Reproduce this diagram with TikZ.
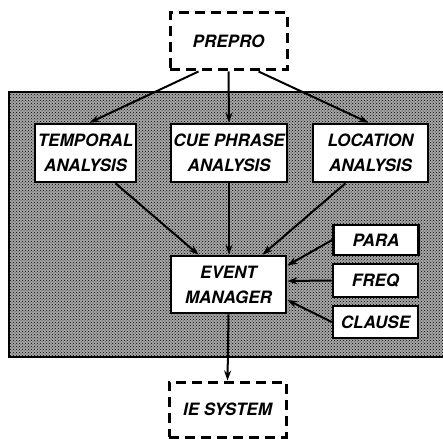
\documentclass[tikz,border=0pt]{standalone}
\usepackage{fontspec}
\setmainfont{TeX Gyre Heros}
\usetikzlibrary{arrows,arrows.meta,shapes}
\usetikzlibrary{positioning}
\usetikzlibrary{patterns}
\definecolor{fg}{rgb}{0,0,0}
\tikzstyle{box}=[draw, line width=2.6pt, fill=white, inner sep=0pt,
anchor=center, align=center, text=fg,
font=\fontsize{17}{25}\selectfont\bfseries\itshape]
\tikzstyle{ext}=[box, fill=none, line width=3pt, dash pattern=on 10pt off 6pt]
\tikzstyle{small}=[box, minimum width=85pt]
\tikzstyle{myarrow}=[->, >={Stealth[length=10pt, width=7pt]}, line width=2pt]

\begin{document}
\begin{tikzpicture}[x=1pt, y=-1pt]
    \useasboundingbox (0,0) rectangle (443,438);

    % shaded module area
    \fill[black!35] (9,92) rectangle (445,357);
    \fill[pattern=crosshatch dots, pattern color=black] (9,92) rectangle (445,357);
    \draw[line width=2pt] (445,92) -- (9,92) -- (9,357) -- (445,357);

    \node[ext, minimum width=117pt, minimum height=57pt] (prepro) at (228.5,41.5) {PREPRO};

    \node[box, minimum width=101pt, minimum height=58pt] (temporal) at (85.5,153) {TEMPORAL\\ANALYSIS};
    \node[box, minimum width=116pt, minimum height=58pt] (cue) at (229,153) {CUE PHRASE\\ANALYSIS};
    \node[box, minimum width=115pt, minimum height=58pt] (location) at (370.5,153) {LOCATION\\ANALYSIS};

    \node[box, minimum width=115pt, minimum height=57pt] (event) at (228.5,284.5) {EVENT\\MANAGER};

    \node[small, minimum height=30pt] (para) at (376,240) {PARA};
    \node[small, minimum height=33pt] (freq) at (375.5,280.5) {FREQ};
    \node[small, minimum height=32pt] (clause) at (375.5,322) {CLAUSE};

    \node[ext, minimum width=117pt, minimum height=55pt] (ie) at (227.5,409.5) {IE SYSTEM};

    \draw[myarrow] ([xshift=-30pt]prepro.south) -- ([xshift=4pt]temporal.north);
    \draw[myarrow] (prepro.south) -- (cue.north);
    \draw[myarrow] ([xshift=30pt]prepro.south) -- ([xshift=-2pt]location.north);

    \draw[myarrow] ([xshift=30pt]temporal.south) -- ([xshift=-30pt]event.north);
    \draw[myarrow] (cue.south) -- ([xshift=0.5pt]event.north);
    \draw[myarrow] ([xshift=-25pt]location.south) -- ([xshift=34pt]event.north);

    \draw[myarrow] (para.west) -- ([yshift=19pt]event.east);
    \draw[myarrow] (freq.west) -- ([yshift=3.5pt]event.east);
    \draw[myarrow] (clause.west) -- ([yshift=-15.5pt]event.east);

    \draw[myarrow] (event.south) -- (ie.north);

\end{tikzpicture}
\end{document}
